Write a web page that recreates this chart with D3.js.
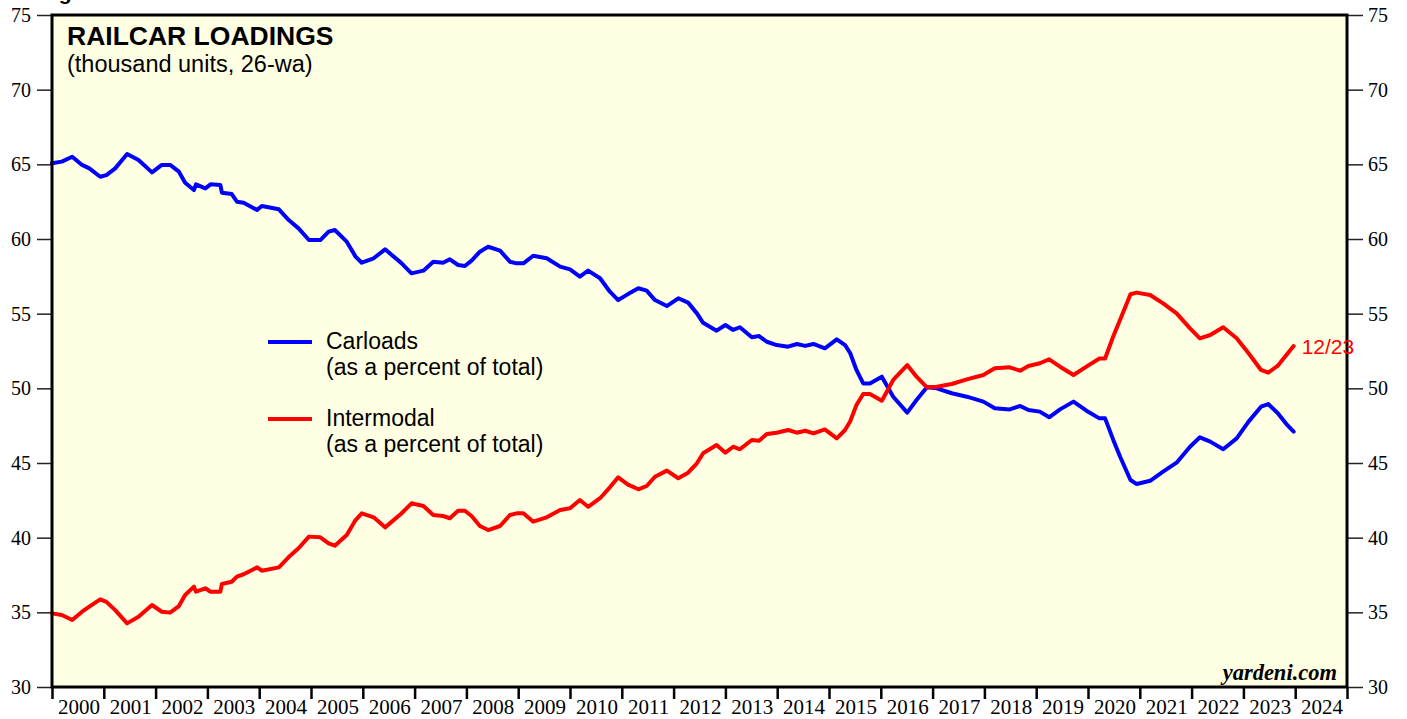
<!DOCTYPE html>
<html>
<head>
<meta charset="utf-8">
<script src="https://cdn.jsdelivr.net/npm/d3@7"></script>
<style>
  body { margin: 0; background: #fff; }
  svg text { font-family: "Liberation Sans", Arial, sans-serif; }
  .tick text { font-family: "Liberation Serif", "Times New Roman", serif; font-size: 20px; fill: #000; }
</style>
</head>
<body>
<div id="chart"></div>
<script>
// weekly data sampled off the chart, decimal years
var dates = [2000.00, 2000.19, 2000.39, 2000.58, 2000.72, 2000.93, 2001.05, 2001.22, 2001.45, 2001.67,
  2001.93, 2002.12, 2002.28, 2002.45, 2002.57, 2002.74, 2002.78, 2002.96, 2003.06, 2003.25,
  2003.28, 2003.47, 2003.57, 2003.70, 2003.96, 2004.05, 2004.38, 2004.57, 2004.76, 2004.96,
  2005.18, 2005.34, 2005.46, 2005.69, 2005.86, 2005.98, 2006.21, 2006.43, 2006.74, 2006.94,
  2007.17, 2007.36, 2007.55, 2007.68, 2007.84, 2007.97, 2008.10, 2008.26, 2008.42, 2008.65,
  2008.84, 2008.97, 2009.10, 2009.29, 2009.55, 2009.81, 2010.00, 2010.19, 2010.35, 2010.58,
  2010.77, 2010.93, 2011.12, 2011.32, 2011.48, 2011.64, 2011.87, 2012.09, 2012.28, 2012.45,
  2012.57, 2012.83, 2013.00, 2013.15, 2013.28, 2013.51, 2013.65, 2013.80, 2013.99, 2014.21,
  2014.38, 2014.54, 2014.70, 2014.92, 2015.15, 2015.31, 2015.41, 2015.53, 2015.66, 2015.79,
  2016.02, 2016.24, 2016.51, 2016.69, 2016.89, 2017.08, 2017.37, 2017.66, 2017.98, 2018.20,
  2018.49, 2018.69, 2018.85, 2019.07, 2019.25, 2019.46, 2019.72, 2019.97, 2020.22, 2020.33,
  2020.49, 2020.62, 2020.82, 2020.94, 2021.20, 2021.45, 2021.71, 2021.97, 2022.16, 2022.36,
  2022.61, 2022.87, 2023.10, 2023.34, 2023.48, 2023.66, 2023.83, 2023.97];

var carloads = [65.07, 65.18, 65.51, 64.96, 64.73, 64.17, 64.28, 64.73, 65.69, 65.29,
  64.46, 64.96, 64.96, 64.51, 63.77, 63.28, 63.66, 63.39, 63.66, 63.62,
  63.10, 63.01, 62.50, 62.43, 61.94, 62.21, 61.99, 61.27, 60.71, 59.93,
  59.93, 60.49, 60.60, 59.82, 58.82, 58.41, 58.71, 59.31, 58.40, 57.70,
  57.88, 58.48, 58.41, 58.64, 58.26, 58.19, 58.55, 59.15, 59.48, 59.22,
  58.48, 58.37, 58.37, 58.88, 58.71, 58.15, 57.97, 57.48, 57.88, 57.37,
  56.47, 55.91, 56.31, 56.70, 56.54, 55.91, 55.51, 56.03, 55.74, 55.02,
  54.39, 53.86, 54.24, 53.91, 54.09, 53.42, 53.50, 53.12, 52.90, 52.79,
  52.97, 52.84, 52.97, 52.68, 53.28, 52.90, 52.35, 51.23, 50.33, 50.33,
  50.78, 49.44, 48.37, 49.22, 50.07, 50.00, 49.67, 49.44, 49.11, 48.66,
  48.59, 48.82, 48.55, 48.44, 48.06, 48.59, 49.11, 48.50, 47.99, 47.99,
  46.53, 45.42, 43.86, 43.59, 43.81, 44.42, 45.02, 46.09, 46.72, 46.43,
  45.92, 46.65, 47.77, 48.77, 48.95, 48.35, 47.61, 47.10];

var intermodal = [34.93, 34.82, 34.49, 35.04, 35.38, 35.87, 35.70, 35.15, 34.26, 34.71,
  35.49, 35.04, 34.98, 35.42, 36.16, 36.72, 36.38, 36.61, 36.38, 36.38,
  36.90, 37.05, 37.39, 37.55, 38.01, 37.79, 38.01, 38.70, 39.29, 40.07,
  40.02, 39.62, 39.46, 40.18, 41.18, 41.63, 41.36, 40.69, 41.60, 42.30,
  42.12, 41.52, 41.45, 41.30, 41.80, 41.80, 41.45, 40.78, 40.51, 40.78,
  41.52, 41.63, 41.63, 41.07, 41.36, 41.85, 41.97, 42.52, 42.07, 42.64,
  43.37, 44.04, 43.55, 43.24, 43.46, 44.08, 44.49, 43.98, 44.35, 44.98,
  45.65, 46.20, 45.69, 46.09, 45.92, 46.54, 46.49, 46.94, 47.03, 47.21,
  47.03, 47.16, 46.98, 47.25, 46.65, 47.21, 47.80, 48.88, 49.62, 49.62,
  49.17, 50.56, 51.56, 50.78, 50.07, 50.11, 50.29, 50.60, 50.89, 51.34,
  51.41, 51.18, 51.50, 51.68, 51.94, 51.45, 50.89, 51.45, 52.00, 52.00,
  53.50, 54.60, 56.30, 56.41, 56.25, 55.69, 55.02, 54.02, 53.35, 53.57,
  54.09, 53.35, 52.35, 51.23, 51.05, 51.50, 52.23, 52.83];

var yTicks = [30, 35, 40, 45, 50, 55, 60, 65, 70, 75];
var years = d3.range(2000, 2025);
var lastLabel = "12/23";

var width = 1407, height = 719;
var margin = {top: 15, right: 60, bottom: 32, left: 52};

var svg = d3.select("#chart").append("svg")
    .attr("width", width)
    .attr("height", height);

var x = d3.scaleLinear().domain([2000, 2025]).range([margin.left, width - margin.right]);
var y = d3.scaleLinear().domain([30, 75]).range([height - margin.bottom, margin.top]);

// heading above the panel, cropped off at the top of the image
svg.append("text")
    .attr("x", 40).attr("y", -0.5)
    .style("font-weight", "bold").style("font-size", "21px")
    .text("Figure 1.");

// plot background
svg.append("rect")
    .attr("x", x(2000)).attr("y", y(75))
    .attr("width", x(2025) - x(2000)).attr("height", y(30) - y(75))
    .attr("fill", "#ffffe3");

// y axes
var yLeft = svg.append("g")
    .attr("transform", "translate(" + (x(2000) - 1) + ",0)")
    .call(d3.axisLeft(y).tickValues(yTicks).tickSize(14).tickPadding(6));
var yRight = svg.append("g")
    .attr("transform", "translate(" + (x(2025) + 1) + ",0)")
    .call(d3.axisRight(y).tickValues(yTicks).tickSize(15).tickPadding(5));
[yLeft, yRight].forEach(function(g){
    g.select(".domain").remove();
    g.selectAll(".tick line").attr("stroke", "#222").attr("stroke-width", 1.5);
    g.selectAll(".tick text").attr("dy", "0.32em");
});

// x axis: year boundary ticks, labels centred in each year
var xAxis = svg.append("g")
    .attr("transform", "translate(0," + (y(30) + 1) + ")")
    .call(d3.axisBottom(x).tickValues(d3.range(2000, 2026)).tickSize(11).tickFormat(""));
xAxis.select(".domain").remove();
xAxis.selectAll(".tick line").attr("stroke", "#000").attr("stroke-width", 2.5);

svg.append("g").selectAll("text")
    .data(years)
  .enter().append("text")
    .attr("x", function(d){ return x(d + 0.5) + 1; })
    .attr("y", y(30) + 27)
    .attr("text-anchor", "middle")
    .style("font-family", "'Liberation Serif', 'Times New Roman', serif")
    .style("font-size", "21px")
    .text(function(d){ return d; });

// series
var line = d3.line()
    .x(function(d){ return x(d[0]); })
    .y(function(d){ return y(d[1]); });

var series = [
    {name: "Carloads", values: carloads, color: "#0000ff"},
    {name: "Intermodal", values: intermodal, color: "#ff0000"}
];

series.forEach(function(s){
    svg.append("path")
        .datum(dates.map(function(t, i){ return [t, s.values[i]]; }))
        .attr("d", line)
        .attr("fill", "none")
        .attr("stroke", s.color)
        .attr("stroke-width", 4)
        .attr("stroke-linejoin", "round")
        .attr("stroke-linecap", "round");
});

// frame
svg.append("rect")
    .attr("x", x(2000)).attr("y", y(75))
    .attr("width", x(2025) - x(2000)).attr("height", y(30) - y(75))
    .attr("fill", "none")
    .attr("stroke", "#000")
    .attr("stroke-width", 3);

// titles
svg.append("text")
    .attr("x", 67).attr("y", 45)
    .style("font-weight", "bold").style("font-size", "26.5px")
    .text("RAILCAR LOADINGS");
svg.append("text")
    .attr("x", 67).attr("y", 72)
    .style("font-size", "23.5px")
    .text("(thousand units, 26-wa)");

// legend
var legend = [
    {label: "Carloads", sub: "(as a percent of total)", color: "#0000ff", y: 342},
    {label: "Intermodal", sub: "(as a percent of total)", color: "#ff0000", y: 419}
];
legend.forEach(function(l){
    svg.append("line")
        .attr("x1", 268).attr("x2", 312)
        .attr("y1", l.y).attr("y2", l.y)
        .attr("stroke", l.color).attr("stroke-width", 4);
    svg.append("text")
        .attr("x", 326).attr("y", l.y + 7)
        .style("font-size", "23px")
        .text(l.label);
    svg.append("text")
        .attr("x", 326).attr("y", l.y + 33)
        .style("font-size", "23px")
        .text(l.sub);
});

// last value label
svg.append("text")
    .attr("x", x(dates[dates.length - 1]) + 8)
    .attr("y", y(intermodal[intermodal.length - 1]) + 8)
    .attr("fill", "#ff0000")
    .style("font-size", "21px")
    .text(lastLabel);

// source
svg.append("text")
    .attr("x", 1337).attr("y", 680)
    .attr("text-anchor", "end")
    .style("font-family", "'Liberation Serif', 'Times New Roman', serif")
    .style("font-weight", "bold").style("font-style", "italic")
    .style("font-size", "22.5px")
    .text("yardeni.com");
</script>
</body>
</html>
